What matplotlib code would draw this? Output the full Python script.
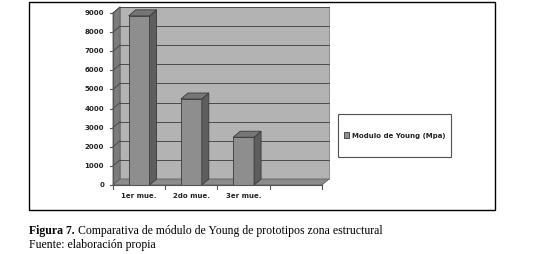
import matplotlib
matplotlib.use("Agg")
import matplotlib.pyplot as plt
from matplotlib.patches import Polygon, Rectangle

categories = ["1er mue.", "2do mue.", "3er mue.", ""]
values = [8850, 4500, 2500]
series_name = "Modulo de Young (Mpa)"
yticks = [0, 1000, 2000, 3000, 4000, 5000, 6000, 7000, 8000, 9000]

W, H = 537, 254
fig = plt.figure(figsize=(W / 100, H / 100), dpi=100)
fig.patch.set_facecolor("white")

def px(x0, y0, x1, y1):
    return [x0 / W, 1 - y1 / H, (x1 - x0) / W, (y1 - y0) / H]

# outer frame
fig.patches.append(Rectangle((29 / W, 1 - 210 / H), (495 - 29) / W, (210 - 2) / H,
                             transform=fig.transFigure, fill=False, edgecolor="black", lw=1.0))

ax = fig.add_axes(px(113, 13, 322, 185))
ymax = 9000
n = len(categories)
ax.set_xlim(0, n)
ax.set_ylim(0, ymax)
ax.axis("off")

dx = 7 / 52.25
dy = 6 / 172 * ymax

wall_c = "#b3b3b3"
left_c = "#7c7c7c"
floor_c = "#8c8c8c"
grid_c = "#4a4a4a"

# back wall
ax.add_patch(Polygon([(dx, dy), (n + dx, dy), (n + dx, ymax + dy), (dx, ymax + dy)],
                     closed=True, facecolor=wall_c, edgecolor="#808080", lw=0.6, clip_on=False, zorder=1))
# left wall
ax.add_patch(Polygon([(0, 0), (dx, dy), (dx, ymax + dy), (0, ymax)],
                     closed=True, facecolor=left_c, edgecolor="#606060", lw=0.6, clip_on=False, zorder=1))
# floor
ax.add_patch(Polygon([(0, 0), (n, 0), (n + dx, dy), (dx, dy)],
                     closed=True, facecolor=floor_c, edgecolor="#606060", lw=0.6, clip_on=False, zorder=1))

for t in yticks[1:]:
    ax.plot([dx, n + dx], [t + dy, t + dy], color=grid_c, lw=0.7, clip_on=False, zorder=2)
    ax.plot([0, dx], [t, t + dy], color=grid_c, lw=0.7, clip_on=False, zorder=2)

# bars
xs = [i + 0.5 for i in range(len(values))]
bw = 0.40
bars = ax.bar(xs, values, width=bw, color="#8e8e8e", edgecolor="#3a3a3a", lw=0.6, zorder=4,
              label=series_name)
for x, v in zip(xs, values):
    r = x + bw / 2
    l = x - bw / 2
    ax.add_patch(Polygon([(r, 0), (r + dx, dy), (r + dx, v + dy), (r, v)], closed=True,
                         facecolor="#5e5e5e", edgecolor="#3a3a3a", lw=0.6, zorder=4, clip_on=False))
    ax.add_patch(Polygon([(l, v), (r, v), (r + dx, v + dy), (l + dx, v + dy)], closed=True,
                         facecolor="#767676", edgecolor="#3a3a3a", lw=0.6, zorder=4, clip_on=False))

# axes lines
ax.plot([0, 0], [0, ymax], color="#555555", lw=0.8, clip_on=False, zorder=5)
ax.plot([0, n], [0, 0], color="#555555", lw=0.8, clip_on=False, zorder=5)
tk = 3 / 52.25
for t in yticks:
    ax.plot([-tk, 0], [t, t], color="#555555", lw=0.8, clip_on=False, zorder=5)
    ax.text(-0.17, t, str(t), ha="right", va="center", fontsize=5, color="#222222",
            fontweight="bold", family="DejaVu Sans")
for i in range(n + 1):
    ax.plot([i, i], [0, -4 / 172 * ymax], color="#555555", lw=0.8, clip_on=False, zorder=5)
for i, c in enumerate(categories):
    ax.text(i + 0.5, -11 / 172 * ymax, c, ha="center", va="center", fontsize=5, color="#222222",
            fontweight="bold", family="DejaVu Sans")

# legend box
fig.patches.append(Rectangle((338 / W, 1 - 157 / H), (451 - 338) / W, (157 - 114) / H,
                             transform=fig.transFigure, fill=True, facecolor="white",
                             edgecolor="#505050", lw=0.8))
leg = fig.legend(handles=[bars], labels=[series_name], loc="center",
                 bbox_to_anchor=(394.5 / W, 1 - 135.5 / H), frameon=False,
                 prop={"size": 5, "weight": "bold", "family": "DejaVu Sans"},
                 handlelength=0.8, handleheight=0.8, handletextpad=0.3)
for t in leg.get_texts():
    t.set_color("#222222")

# caption
t1 = fig.text(29 / W, 1 - 231 / H, "Figura 7.", fontsize=8.5, fontweight="bold",
              family="Liberation Serif", va="center", ha="left")
fig.canvas.draw()
bb = t1.get_window_extent()
fig.text(bb.x1 / W + 3 / W, 1 - 231 / H,
         "Comparativa de módulo de Young de prototipos zona estructural",
         fontsize=8.5, family="Liberation Serif", va="center", ha="left")
fig.text(29 / W, 1 - 245 / H, "Fuente: elaboración propia", fontsize=8.5,
         family="Liberation Serif", va="center", ha="left")

fig.savefig("out.png", dpi=100)
